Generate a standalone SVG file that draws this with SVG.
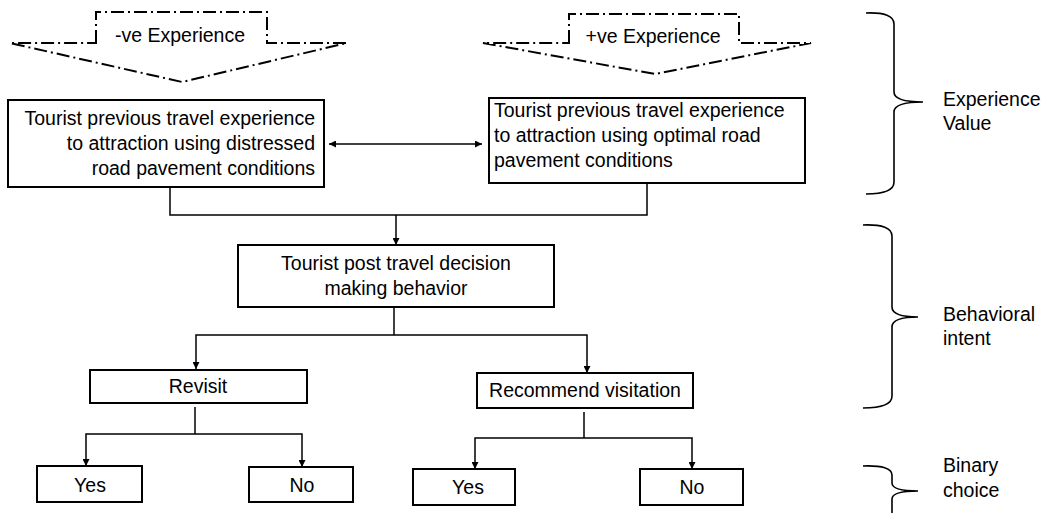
<svg xmlns="http://www.w3.org/2000/svg" width="1052" height="513" viewBox="0 0 1052 513">
<defs>
<marker id="ah" viewBox="0 0 10 10" refX="10" refY="5" markerWidth="7" markerHeight="7" markerUnits="userSpaceOnUse" orient="auto-start-reverse">
<path d="M0,0 L10,5 L0,10 Z" fill="#000"/>
</marker>
<style>
.t{font-family:"Liberation Sans",Arial,sans-serif;font-size:19.5px;fill:#000}
.c{text-anchor:middle}
.box{fill:#fff;stroke:#000;stroke-width:2}
.ln{fill:none;stroke:#000;stroke-width:1.5}
.dd{fill:#fff;stroke:#000;stroke-width:2;stroke-dasharray:13 4 2 4}
.br{fill:none;stroke:#000;stroke-width:1.6}
</style>
</defs>
<rect width="1052" height="513" fill="#fff"/>

<g id="neg-experience">
<path class="dd" d="M96,43 L96,12 L267,12 L267,43 L347,43 L182,82 L10,43 Z"/>
<text class="t c" x="180" y="42">-ve Experience</text>
</g>
<g id="pos-experience">
<path class="dd" d="M569,43 L569,14 L739,14 L739,43 L811,43 L655,74 L483,43 Z"/>
<text class="t c" x="653" y="43">+ve Experience</text>
</g>

<g id="connectors">
<line class="ln" x1="329" y1="144" x2="482" y2="144" marker-start="url(#ah)" marker-end="url(#ah)"/>
<polyline class="ln" points="170,187 170,215 647,215 647,183"/>
<line class="ln" x1="396" y1="215" x2="396" y2="245" marker-end="url(#ah)"/>
<line class="ln" x1="394" y1="307" x2="394" y2="335"/>
<polyline class="ln" points="196,369 196,335 587,335 587,373" marker-start="url(#ah)" marker-end="url(#ah)"/>
<line class="ln" x1="195" y1="407" x2="195" y2="434"/>
<polyline class="ln" points="86,466 86,434 302,434 302,467" marker-start="url(#ah)" marker-end="url(#ah)"/>
<line class="ln" x1="584" y1="412" x2="584" y2="438"/>
<polyline class="ln" points="475,469 475,438 692,438 692,469" marker-start="url(#ah)" marker-end="url(#ah)"/>
</g>

<g id="distressed">
<rect class="box" x="8" y="100" width="316" height="87"/>
<text class="t" text-anchor="end" x="315" y="125">Tourist previous travel experience</text>
<text class="t" text-anchor="end" x="315" y="150">to attraction using distressed</text>
<text class="t" text-anchor="end" x="315" y="175">road pavement conditions</text>
</g>
<g id="optimal">
<rect class="box" x="489" y="98" width="316" height="85"/>
<text class="t" x="494" y="117">Tourist previous travel experience</text>
<text class="t" x="494" y="142">to attraction using optimal road</text>
<text class="t" x="494" y="167">pavement conditions</text>
</g>
<g id="decision">
<rect class="box" x="238" y="245" width="316" height="62"/>
<text class="t c" x="396" y="270">Tourist post travel decision</text>
<text class="t c" x="396" y="295">making behavior</text>
</g>
<g id="revisit">
<rect class="box" x="90" y="370" width="217" height="33"/>
<text class="t c" x="198" y="393">Revisit</text>
</g>
<g id="recommend">
<rect class="box" x="477" y="373" width="216" height="35"/>
<text class="t c" x="585" y="397">Recommend visitation</text>
</g>
<g id="revisit-yes">
<rect class="box" x="37" y="466" width="105" height="36"/>
<text class="t c" x="90" y="492">Yes</text>
</g>
<g id="revisit-no">
<rect class="box" x="249" y="467" width="104" height="35"/>
<text class="t c" x="302" y="492">No</text>
</g>
<g id="recommend-yes">
<rect class="box" x="413" y="469" width="102" height="36"/>
<text class="t c" x="468" y="494">Yes</text>
</g>
<g id="recommend-no">
<rect class="box" x="640" y="469" width="103" height="36"/>
<text class="t c" x="692" y="494">No</text>
</g>

<g id="experience-value">
<path class="br" d="M866,13 Q894,12 894,24 L894,92 Q894,102 923,102 Q894,102 894,112 L894,182 Q894,194 866,194"/>
<text class="t" x="943" y="106">Experience</text>
<text class="t" x="943" y="130">Value</text>
</g>
<g id="behavioral-intent">
<path class="br" d="M863,225 Q892,224 892,236 L892,307 Q892,317 918,317 Q892,317 892,327 L892,396 Q892,408 863,408"/>
<text class="t" x="943" y="321">Behavioral</text>
<text class="t" x="943" y="345">intent</text>
</g>
<g id="binary-choice">
<path class="br" d="M863,466 Q892,465 892,475 L892,483 Q892,491 918,491 Q892,491 892,499 L892,515"/>
<text class="t" x="943" y="472">Binary</text>
<text class="t" x="943" y="497">choice</text>
</g>
</svg>
